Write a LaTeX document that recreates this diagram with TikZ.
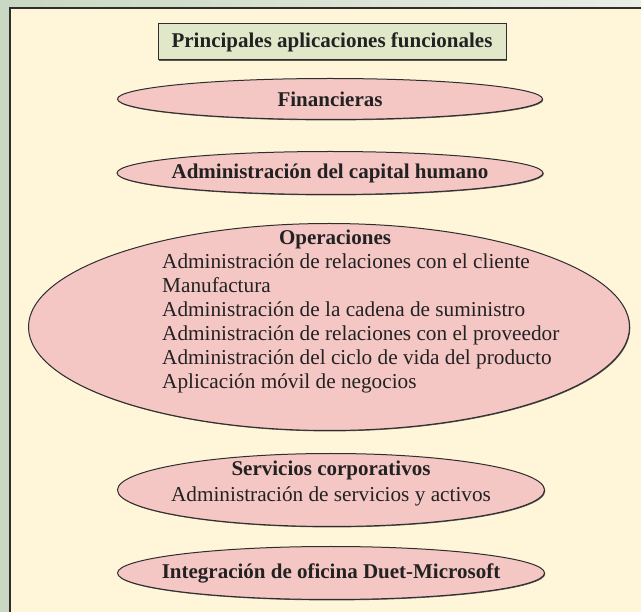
\documentclass[tikz,border=0pt]{standalone}
\usepackage{fontspec}
\setmainfont{Liberation Serif}
\usetikzlibrary{shapes.geometric,shadows}
\definecolor{bgA}{HTML}{C9D8C2}
\definecolor{bgB}{HTML}{E9EEE6}
\definecolor{paper}{HTML}{FFF6DA}
\definecolor{ovalfill}{HTML}{F4C6C4}
\definecolor{titlefill}{HTML}{E0E8C9}
\definecolor{edge}{HTML}{2E2E2E}
\definecolor{ink}{HTML}{222222}
\tikzset{
  shade1/.style={drop shadow={shadow xshift=0.8pt, shadow yshift=-0.9pt, fill=edge, opacity=0.8}},
  oval/.style={ellipse, draw=edge, fill=ovalfill, line width=1pt, inner sep=0pt, shade1},
  lbl/.style={font=\fontsize{21}{24}\selectfont\bfseries, text=ink, inner sep=0pt},
  plain/.style={font=\fontsize{21.25}{24}\selectfont, text=ink, inner sep=0pt},
  item/.style={plain, anchor=base west},
}
\begin{document}
\begin{tikzpicture}[x=1pt,y=-1pt]
\clip (0,0) rectangle (641,612);
\shade[left color=bgA,right color=bgB] (0,0) rectangle (641,612);
\draw[fill=paper, draw=edge, line width=1.3pt] (10,8) rectangle (650,620);
% title
\node[draw=edge, fill=titlefill, line width=1pt, minimum width=348pt, minimum height=36pt, lbl, shade1] (title) at (332,42) {Principales aplicaciones funcionales};
% Financieras
\node[oval, minimum width=425pt, minimum height=41pt] (fin) at (330,99) {};
\node[lbl] (finT) at (fin.center) {Financieras};
% Capital humano
\node[oval, minimum width=426pt, minimum height=43pt] (cap) at (330,173) {};
\node[lbl] (capT) at (cap.center) {Administración del capital humano};
% Operaciones
\node[oval, minimum width=601pt, minimum height=207pt] (ops) at (329,327) {};
\node[lbl] (opsT) at (335,239) {Operaciones};
\node[item] (op1) at (162,269) {Administración de relaciones con el cliente};
\node[item] (op2) at (162,293) {Manufactura};
\node[item] (op3) at (162,317) {Administración de la cadena de suministro};
\node[item] (op4) at (162,341) {Administración de relaciones con el proveedor};
\node[item] (op5) at (162,365) {Administración del ciclo de vida del producto};
\node[item] (op6) at (162,389) {Aplicación móvil de negocios};
% Servicios corporativos
\node[oval, minimum width=427pt, minimum height=73pt] (srv) at (331,490) {};
\node[lbl] (srvT) at (331,470) {Servicios corporativos};
\node[plain] (srv1) at (331,496) {Administración de servicios y activos};
% Integracion
\node[oval, minimum width=427pt, minimum height=53pt] (duet) at (331,573) {};
\node[lbl] (duetT) at (duet.center) {Integración de oficina Duet-Microsoft};
\end{tikzpicture}
\end{document}
